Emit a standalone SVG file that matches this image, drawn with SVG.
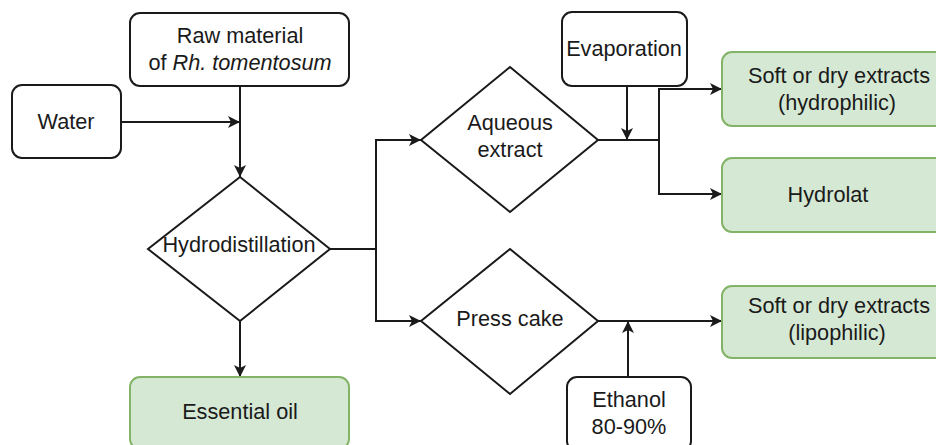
<svg xmlns="http://www.w3.org/2000/svg" width="936" height="445" viewBox="0 0 936 445">
<defs>
<style>
.box{fill:#ffffff;stroke:#1a1a1a;stroke-width:2}
.green{fill:#d5e8d4;stroke:#82b366;stroke-width:2}
.dia{fill:#ffffff;stroke:#1a1a1a;stroke-width:2}
.t{font-family:"Liberation Sans",Arial,sans-serif;font-size:21.7px;fill:#1a1a1a;text-anchor:middle}
.c{fill:none;stroke:#1a1a1a;stroke-width:2}
</style>
<marker id="arr" markerUnits="userSpaceOnUse" markerWidth="14" markerHeight="12" refX="12" refY="6" orient="auto">
<path d="M0,0 L12,6 L0,12 L3,6 z" fill="#1a1a1a"/>
</marker>
</defs>
<rect width="936" height="445" fill="#ffffff"/>
<g id="connectors">
<path class="c" d="M240,86 V177" marker-end="url(#arr)"/>
<path class="c" d="M121,122 H240" marker-end="url(#arr)"/>
<path class="c" d="M240,321 V377" marker-end="url(#arr)"/>
<path class="c" d="M330,249 H376 V140 H421" marker-end="url(#arr)"/>
<path class="c" d="M376,249 V321 H421" marker-end="url(#arr)"/>
<path class="c" d="M598,140 H659 V89 H722" marker-end="url(#arr)"/>
<path class="c" d="M659,140 V194 H722" marker-end="url(#arr)"/>
<path class="c" d="M627,86 V140" marker-end="url(#arr)"/>
<path class="c" d="M598,321 H722" marker-end="url(#arr)"/>
<path class="c" d="M628,377 V321" marker-end="url(#arr)"/>
</g>
<g id="raw">
<rect class="box" x="130" y="13" width="219" height="73" rx="10"/>
<text class="t" x="240" y="43">Raw material</text>
<text class="t" x="240" y="70">of <tspan font-style="italic">Rh. tomentosum</tspan></text>
</g>
<g id="water">
<rect class="box" x="12" y="85" width="109" height="73" rx="10"/>
<text class="t" x="66" y="129">Water</text>
</g>
<g id="hydrodistillation">
<polygon class="dia" points="240,177 330,249 240,321 148,249"/>
<text class="t" x="239" y="252">Hydrodistillation</text>
</g>
<g id="essential-oil">
<rect class="green" x="130" y="377" width="219" height="72" rx="10"/>
<text class="t" x="240" y="419">Essential oil</text>
</g>
<g id="aqueous">
<polygon class="dia" points="510,67 598,140 510,212 421,140"/>
<text class="t" x="510" y="130">Aqueous</text>
<text class="t" x="510" y="157">extract</text>
</g>
<g id="press-cake">
<polygon class="dia" points="510,249 598,321 510,394 421,321"/>
<text class="t" x="510" y="326">Press cake</text>
</g>
<g id="evaporation">
<rect class="box" x="562" y="12" width="125" height="74" rx="10"/>
<text class="t" x="624" y="56">Evaporation</text>
</g>
<g id="ethanol">
<rect class="box" x="567" y="377" width="124" height="74" rx="10"/>
<text class="t" x="629" y="407">Ethanol</text>
<text class="t" x="629" y="434">80-90%</text>
</g>
<g id="hydrophilic">
<rect class="green" x="722" y="52" width="232" height="74" rx="10"/>
<text class="t" x="839" y="83">Soft or dry extracts</text>
<text class="t" x="837" y="110">(hydrophilic)</text>
</g>
<g id="hydrolat">
<rect class="green" x="722" y="158" width="232" height="74" rx="10"/>
<text class="t" x="828" y="202">Hydrolat</text>
</g>
<g id="lipophilic">
<rect class="green" x="722" y="286" width="232" height="72" rx="10"/>
<text class="t" x="839" y="313">Soft or dry extracts</text>
<text class="t" x="837" y="340">(lipophilic)</text>
</g>
</svg>
